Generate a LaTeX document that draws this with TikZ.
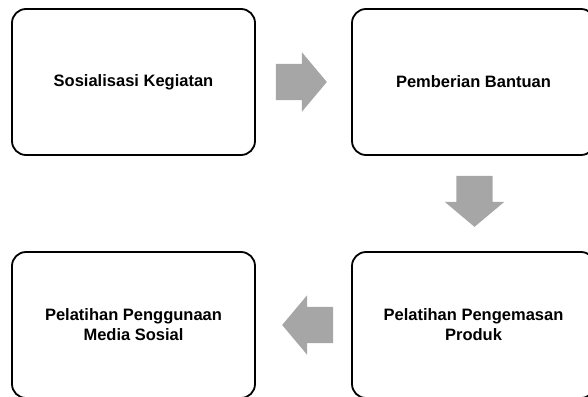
\documentclass[tikz,border=0pt]{standalone}
\usepackage{fontspec}
\setmainfont{Liberation Sans}
\usetikzlibrary{shapes.arrows,calc}
\tikzset{
  stepbox/.style={draw=black, line width=1.8pt, rounded corners=14pt,
    minimum width=243pt, minimum height=146pt, inner sep=0pt, align=center,
    font=\bfseries\fontsize{16.5}{20}\selectfont},
  flowarrow/.style={single arrow, fill=black!35, draw=none, inner sep=0pt,
    minimum height=51pt, minimum width=59pt, anchor=tip,
    single arrow head extend=11.5pt, single arrow tip angle=100}
}
\begin{document}
\begin{tikzpicture}[x=1pt,y=1pt]
\useasboundingbox (0,0) rectangle (588,-396);
% Four steps
\node[stepbox] (sosialisasi) at (133.5,-82) {Sosialisasi Kegiatan};
\node[stepbox] (bantuan) at (473.5,-82) {Pemberian Bantuan};
\node[stepbox] (kemasan) at (473.5,-325) {Pelatihan Pengemasan\\Produk};
\node[stepbox] (medsos) at (133.5,-325) {Pelatihan Penggunaan\\Media Sosial};

% Block arrows between steps
\node[flowarrow] (a1) at ($(bantuan.west)+(-24,0)$) {\rule{0pt}{36pt}};
\node[flowarrow,shape border rotate=270] (a2) at ($(kemasan.north)+(1,24)$) {\rule{36pt}{0pt}};
\node[flowarrow,shape border rotate=180] (a3) at ($(medsos.east)+(26,0)$) {\rule{0pt}{36pt}};
\end{tikzpicture}
\end{document}
